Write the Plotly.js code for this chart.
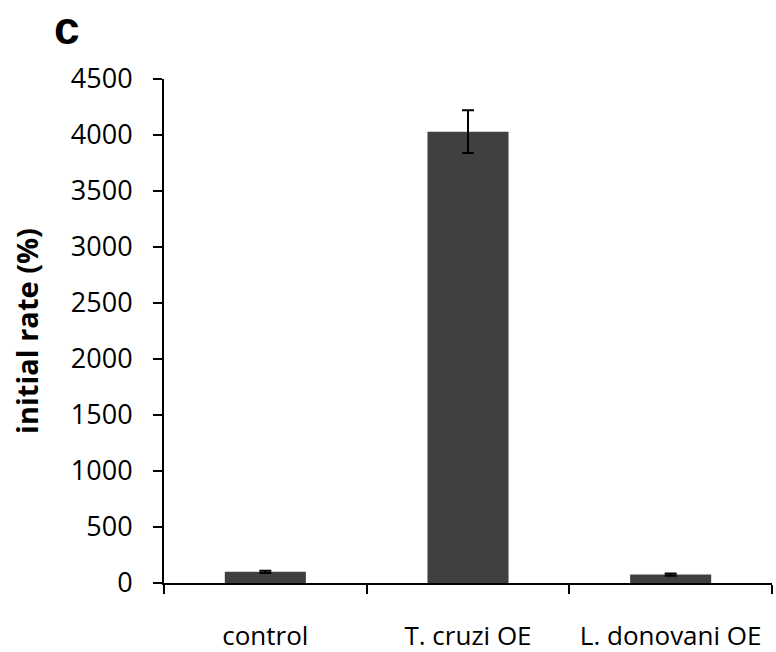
<!DOCTYPE html>
<html>
<head>
<meta charset="utf-8">
<script src="https://cdn.plot.ly/plotly-3.0.1.min.js"></script>
<style>html,body{margin:0;padding:0;background:#fff;}#chart{width:776px;height:652px;}</style>
</head>
<body>
<div id="chart"></div>
<script>
const categories = ["control", "T. cruzi OE", "L. donovani OE"];
const values = [100, 4030, 75];
const errors = [10, 190, 10];
const yTicks = [0, 500, 1000, 1500, 2000, 2500, 3000, 3500, 4000, 4500];

const trace = {
  type: "bar",
  x: categories,
  y: values,
  width: 0.4,
  marker: {color: "#404040"},
  error_y: {type: "data", array: errors, visible: true, color: "#000", thickness: 2, width: 6}
};

const layout = {
  width: 776, height: 652,
  margin: {l: 164, r: 4, t: 79, b: 69},
  paper_bgcolor: "#fff", plot_bgcolor: "#fff",
  showlegend: false,
  font: {family: "Open Sans, Liberation Sans, sans-serif", color: "#000"},
  xaxis: {
    type: "category",
    tickson: "boundaries",
    ticks: "outside", ticklen: 9, tickwidth: 2, tickcolor: "#000",
    showline: true, linecolor: "#000", linewidth: 2,
    showgrid: false, zeroline: false,
    tickfont: {size: 26, family: "Open Sans, sans-serif"},
    ticklabelstandoff: 29
  },
  yaxis: {
    range: [0, 4500],
    tickvals: yTicks,
    ticks: "outside", ticklen: 9, tickwidth: 2, tickcolor: "#000",
    showline: true, linecolor: "#000", linewidth: 2,
    showgrid: false, zeroline: false,
    tickfont: {size: 27, family: "Open Sans, sans-serif"},
    ticklabelstandoff: 15,
    title: {text: "<b>initial rate (%)</b>", font: {size: 29, family: "Open Sans, sans-serif"}, standoff: 24}
  },
  annotations: [{
    text: "<b>c</b>", xref: "paper", yref: "paper",
    x: -0.1595, y: 1.156, xanchor: "center", yanchor: "top", showarrow: false,
    font: {size: 46, family: "Liberation Sans, Arial, sans-serif", color: "#000"}
  }]
};

Plotly.newPlot("chart", [trace], layout, {displayModeBar: false, staticPlot: true});
</script>
</body>
</html>
